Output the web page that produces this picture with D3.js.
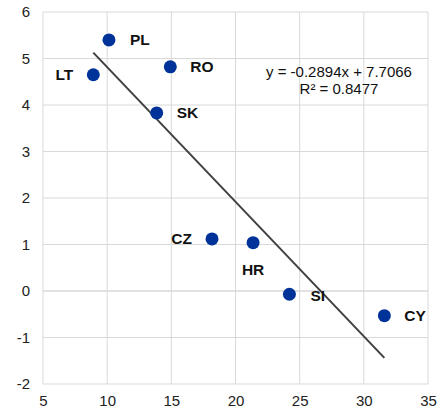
<!DOCTYPE html>
<html><head><meta charset="utf-8">
<script src="https://cdn.jsdelivr.net/npm/d3@7"></script>
<style>body{margin:0;background:#fff}svg{display:block}</style>
</head><body>
<svg id="c" width="448" height="417"></svg>
<script>
const labels = ["PL","LT","RO","SK","CZ","HR","SI","CY"];
const xValues = [10.14, 8.92, 14.92, 13.86, 18.17, 21.37, 24.2, 31.6];
const yValues = [5.40, 4.65, 4.82, 3.83, 1.12, 1.04, -0.07, -0.53];
const xTicks = [5,10,15,20,25,30,35];
const yTicks = [-2,-1,0,1,2,3,4,5,6];
const slope = -0.2894, intercept = 7.7066;
const eqText = ["y = -0.2894x + 7.7066", "R² = 0.8477"];

const svg = d3.select("#c");
const L=43, R=428, T=12, B=384;
const x = d3.scaleLinear().domain([5,35]).range([L,R]);
const y = d3.scaleLinear().domain([-2,6]).range([B,T]);
const font = "Liberation Sans, Arial, sans-serif";

// grid
svg.append("g").selectAll("line").data(xTicks).join("line")
  .attr("x1",d=>x(d)).attr("x2",d=>x(d)).attr("y1",T).attr("y2",B)
  .attr("stroke","#d9d9d9").attr("stroke-width",1);
svg.append("g").selectAll("line").data(yTicks).join("line")
  .attr("x1",L).attr("x2",R).attr("y1",d=>y(d)).attr("y2",d=>y(d))
  .attr("stroke","#d9d9d9").attr("stroke-width",d=>d===0?1.5:1);

// axes labels
const xa = svg.append("g").attr("transform",`translate(0,${B})`)
  .call(d3.axisBottom(x).tickValues(xTicks).tickFormat(d=>String(d)).tickSize(0).tickPadding(11));
xa.select(".domain").remove();
xa.selectAll("text").attr("font-family",font).attr("font-size",15).attr("fill","#222");
const ya = svg.append("g").attr("transform",`translate(${L},0)`)
  .call(d3.axisLeft(y).tickValues(yTicks).tickFormat(d=>String(d)).tickSize(0).tickPadding(13));
ya.select(".domain").remove();
ya.selectAll("text").attr("font-family",font).attr("font-size",15).attr("fill","#222");

// trendline
const xmin = d3.min(xValues), xmax = d3.max(xValues);
svg.append("line")
  .attr("x1",x(xmin)).attr("y1",y(slope*xmin+intercept))
  .attr("x2",x(xmax)).attr("y2",y(slope*xmax+intercept))
  .attr("stroke","#404040").attr("stroke-width",2);

// points
const data = labels.map((l,i)=>({l, x:xValues[i], y:yValues[i]}));
svg.append("g").selectAll("circle").data(data).join("circle")
  .attr("cx",d=>x(d.x)).attr("cy",d=>y(d.y)).attr("r",6.5).attr("fill","#003399");

// labels
const off = {PL:[21,0,"start"], LT:[-20,0,"end"], RO:[20,0,"start"], SK:[20,0,"start"],
  CZ:[-20,0,"end"], HR:[0,27,"middle"], SI:[21,1,"start"], CY:[20,0,"start"]};
svg.append("g").selectAll("text").data(data).join("text")
  .attr("x",d=>x(d.x)+off[d.l][0]).attr("y",d=>y(d.y)+off[d.l][1])
  .attr("dy","0.35em").attr("text-anchor",d=>off[d.l][2])
  .attr("font-family",font).attr("font-size",15.5).attr("font-weight","bold").attr("fill","#111")
  .text(d=>d.l);

// equation
svg.append("g").selectAll("text").data(eqText).join("text")
  .attr("x",339).attr("y",(d,i)=>77+i*17).attr("text-anchor","middle")
  .attr("font-family",font).attr("font-size",15).attr("fill","#111").text(d=>d);
</script>
</body></html>
